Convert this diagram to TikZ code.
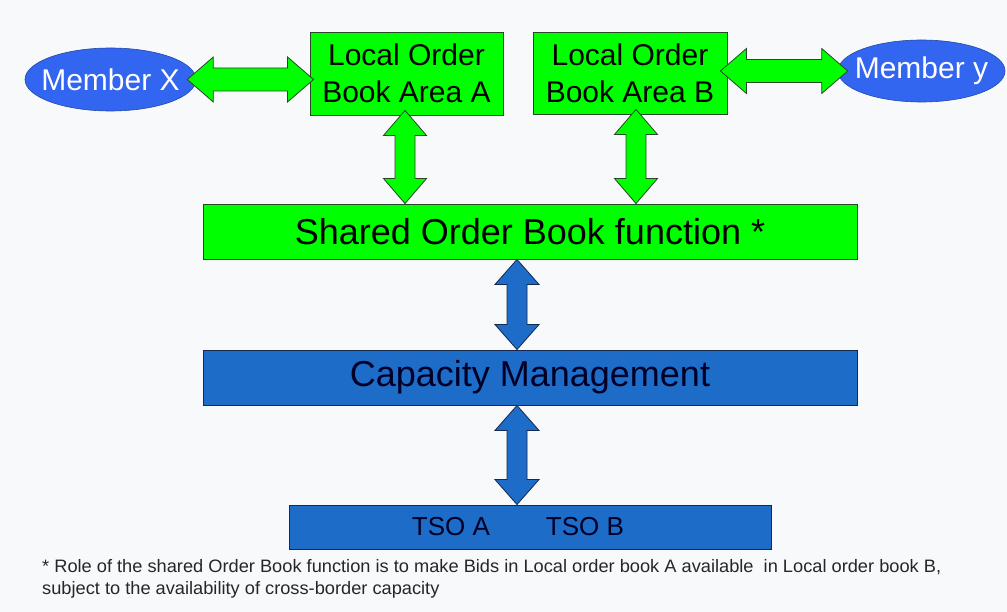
\documentclass[tikz,border=0pt]{standalone}
\usepackage{fontspec}
\setmainfont{Liberation Sans}
\usetikzlibrary{calc,shapes.geometric}
\definecolor{bgc}{RGB}{248,249,250}
\definecolor{brightgreen}{RGB}{0,255,0}
\definecolor{greenedge}{RGB}{40,70,40}
\definecolor{ellblue}{RGB}{51,102,240}
\definecolor{boxblue}{RGB}{28,108,200}
\definecolor{blueedge}{RGB}{20,40,80}
\newcommand\myvarrow[6]{%
 \path[#3] let \p1=#1, \p2=#2 in
 (\x1,\y1) -- ({\x1+#4},{\y1-#6}) -- ({\x1+#5},{\y1-#6}) -- ({\x1+#5},{\y2+#6}) -- ({\x1+#4},{\y2+#6}) -- (\x1,\y2) -- ({\x1-#4},{\y2+#6}) -- ({\x1-#5},{\y2+#6}) -- ({\x1-#5},{\y1-#6}) -- ({\x1-#4},{\y1-#6}) -- cycle;}
\newcommand\myharrow[6]{%
 \path[#3] let \p1=#1, \p2=#2 in
 (\x1,\y1) -- ({\x1+#6},{\y1+#4}) -- ({\x1+#6},{\y1+#5}) -- ({\x2-#6},{\y1+#5}) -- ({\x2-#6},{\y1+#4}) -- (\x2,\y1) -- ({\x2-#6},{\y1-#4}) -- ({\x2-#6},{\y1-#5}) -- ({\x1+#6},{\y1-#5}) -- ({\x1+#6},{\y1-#4}) -- cycle;}
\begin{document}
\begin{tikzpicture}[x=1pt,y=-1pt,
  gbox/.style={draw=greenedge, line width=0.9pt, fill=brightgreen, inner sep=0pt, align=center},
  bbox/.style={draw=blueedge, line width=0.9pt, fill=boxblue, inner sep=0pt, align=center, text=black!85!blue},
  member/.style={ellipse, draw=ellblue!70!black, line width=0.6pt, fill=ellblue, inner xsep=-14pt, inner ysep=0pt, text=white, font=\fontsize{30}{34}\selectfont},
  garrow/.style={fill=brightgreen, draw=greenedge, line width=0.8pt, line join=miter},
  barrow/.style={fill=boxblue, draw=blueedge, line width=0.8pt, line join=miter}]
\fill[bgc] (0,0) rectangle (1007,612);
\useasboundingbox (0,0) rectangle (1007,612);
% nodes
\node[gbox, minimum width=193pt, minimum height=83pt, font=\fontsize{30}{37}\selectfont] (A) at (406.5,73.5) {Local Order\\Book Area A};
\node[gbox, minimum width=194pt, minimum height=82pt, font=\fontsize{30}{37}\selectfont] (B) at (630,73) {Local Order\\Book Area B};
\node[member, minimum width=171pt, minimum height=63pt] (X) at (110.5,79.5) {Member X};
\node[member, minimum width=167pt, minimum height=62pt] (Y) at (921.5,71) {Member y};
\node[gbox, minimum width=654pt, minimum height=55pt, font=\fontsize{36}{40}\selectfont] (S) at (530,231.5) {Shared Order Book function *};
\node[bbox, minimum width=654pt, minimum height=55pt, font=\fontsize{36}{40}\selectfont] (C) at (530,377.5) {Capacity Management};
\node[bbox, minimum width=482pt, minimum height=44pt, font=\fontsize{26}{30}\selectfont] (T) at (530,527) {TSO A\hspace{56pt}TSO B\hspace*{24pt}};
\node[anchor=north west, inner sep=0pt, font=\fontsize{18}{22}\selectfont, text=black!85] (F) at (42,557)
  {\resizebox{899pt}{\height}{\begin{tabular}{@{}l@{}}* Role of the shared Order Book function is to make Bids in Local order book A available~ in Local order book B,\\subject to the availability of cross-border capacity\end{tabular}}};
% connectors
\myharrow{($(X.east)+(-9,0)$)}{($(A.west |- X.east)+(4,0)$)}{garrow}{22.5pt}{11.5pt}{26pt}
\myharrow{($(B.east |- Y.west)+(-7,0)$)}{($(Y.west)+(10,0)$)}{garrow}{22.5pt}{11.5pt}{26pt}
\myvarrow{($(A.south)+(-1.5,-5)$)}{($(S.north -| A.south)+(-1.5,0)$)}{garrow}{21.5pt}{10pt}{25pt}
\myvarrow{($(B.south)+(6,-5)$)}{($(S.north -| B.south)+(6,0)$)}{garrow}{21.5pt}{10pt}{25pt}
\myvarrow{($(S.south)+(-13,0)$)}{($(C.north)+(-13,0)$)}{barrow}{22pt}{10pt}{25pt}
\myvarrow{($(C.south)+(-13,0)$)}{($(T.north -| C.south)+(-13,0)$)}{barrow}{22pt}{10pt}{25pt}
\end{tikzpicture}
\end{document}
